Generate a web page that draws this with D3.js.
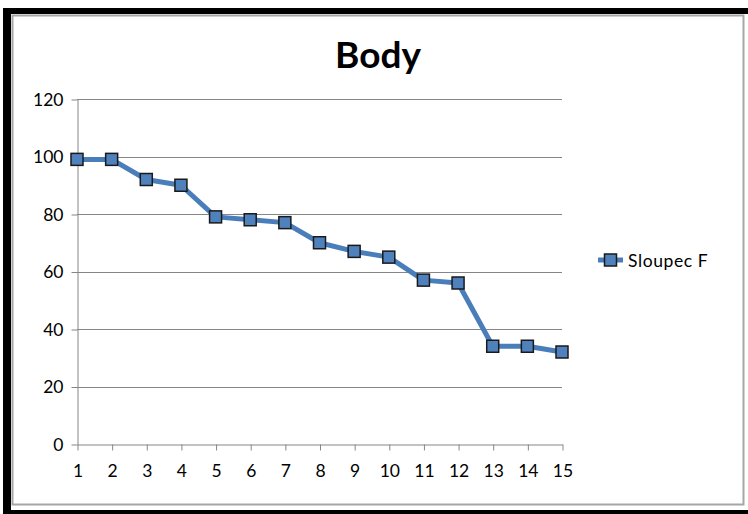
<!DOCTYPE html>
<html>
<head>
<meta charset="utf-8">
<script src="https://cdn.jsdelivr.net/npm/d3@7"></script>
<style>
  body { margin: 0; background: #fff; }
  svg text { font-family: Lato, "Open Sans", sans-serif; }
</style>
</head>
<body>
<div id="graph"></div>
<script>
// data
const categories = [1, 2, 3, 4, 5, 6, 7, 8, 9, 10, 11, 12, 13, 14, 15];
const sloupecF = [99, 99, 92, 90, 79, 78, 77, 70, 67, 65, 57, 56, 34, 34, 32];
const yTicks = [0, 20, 40, 60, 80, 100, 120];
const seriesName = 'Sloupec F';
const title = 'Body';

const w = 748;
const h = 514;
const plot_left = 77, plot_right = 562, plot_top = 99, plot_bottom = 444;

const svg = d3.select('#graph').append('svg')
              .attr('width', w)
              .attr('height', h);

// black frame (looks like a screenshot edge)
svg.append('rect').attr('x', 3).attr('y', 8).attr('width', w - 3).attr('height', 6).attr('fill', '#000');
svg.append('rect').attr('x', 3).attr('y', 8).attr('width', 8).attr('height', h - 8).attr('fill', '#000');
svg.append('rect').attr('x', 3).attr('y', 510).attr('width', w - 3).attr('height', 4).attr('fill', '#000');

// chart border
svg.append('rect')
   .attr('x', 12.5).attr('y', 15.5)
   .attr('width', 731).attr('height', 489)
   .attr('fill', '#fff')
   .attr('stroke', '#a6a6a6')
   .attr('stroke-width', 2);

const xScale = d3.scaleLinear().domain([1, 15]).range([plot_left, plot_right]);
const yScale = d3.scaleLinear().domain([0, 120]).range([plot_bottom, plot_top]);

// gridlines
svg.append('g').selectAll('line')
   .data(yTicks.filter(d => d > 0))
   .enter().append('line')
   .attr('x1', plot_left).attr('x2', plot_right)
   .attr('y1', d => Math.round(yScale(d)) + 0.5)
   .attr('y2', d => Math.round(yScale(d)) + 0.5)
   .attr('stroke', '#868686');

// y axis
const yAxis = svg.append('g')
   .attr('transform', 'translate(' + (plot_left + 0.5) + ',0.5)')
   .call(d3.axisLeft(yScale).tickValues(yTicks).tickSize(6).tickSizeOuter(0).tickPadding(8));

// x axis
const xAxis = svg.append('g')
   .attr('transform', 'translate(0.5,' + (plot_bottom + 0.5) + ')')
   .call(d3.axisBottom(xScale).tickValues(categories).tickSize(6).tickSizeOuter(0).tickPadding(14));

[yAxis, xAxis].forEach(a => {
  a.select('.domain').attr('stroke', '#868686');
  a.selectAll('.tick line').attr('stroke', '#868686');
  a.selectAll('.tick text').attr('font-size', 17.5).attr('fill', '#000')
   .style('font-family', 'Lato, sans-serif');
});

// line
const line = d3.line()
   .x((d, i) => xScale(categories[i]))
   .y(d => yScale(d));

svg.append('path')
   .datum(sloupecF)
   .attr('d', line)
   .attr('fill', 'none')
   .attr('stroke', '#4a7ebb')
   .attr('stroke-width', 5)
   .attr('stroke-linejoin', 'round');

// markers
const ms = 12;
svg.append('g').selectAll('rect')
   .data(sloupecF)
   .enter().append('rect')
   .attr('x', (d, i) => xScale(categories[i]) - ms / 2)
   .attr('y', d => yScale(d) - ms / 2)
   .attr('width', ms).attr('height', ms)
   .attr('fill', '#4f81bd')
   .attr('stroke', '#1a1a1a')
   .attr('stroke-width', 1.5);

// title
svg.append('text')
   .attr('x', 378).attr('y', 68)
   .attr('text-anchor', 'middle')
   .attr('font-size', 37)
   .attr('font-weight', 'bold')
   .text(title);

// legend
const lg = svg.append('g').attr('transform', 'translate(598,260)');
lg.append('line').attr('x1', 0).attr('x2', 25).attr('y1', 0).attr('y2', 0)
  .attr('stroke', '#4a7ebb').attr('stroke-width', 5);
lg.append('rect').attr('x', 6.5).attr('y', -6).attr('width', 12).attr('height', 12)
  .attr('fill', '#4f81bd').attr('stroke', '#1a1a1a').attr('stroke-width', 1.5);
lg.append('text').attr('x', 30).attr('y', 6.5)
  .attr('font-size', 17.5)
  .attr('letter-spacing', 0.6)
  .text(seriesName);
</script>
</body>
</html>
